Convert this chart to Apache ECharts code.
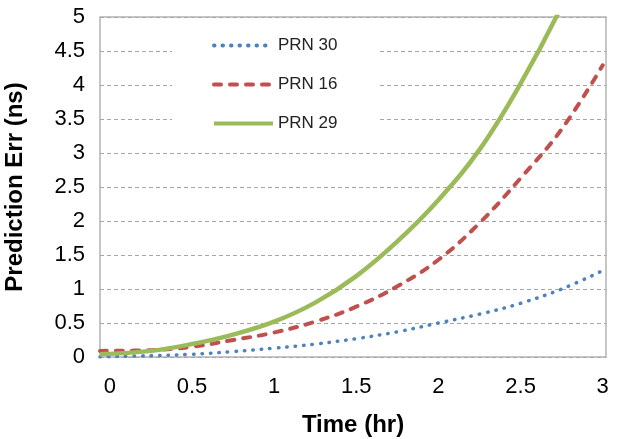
<!DOCTYPE html>
<html>
<head>
<meta charset="utf-8">
<script src="https://cdn.jsdelivr.net/npm/echarts@6/dist/echarts.min.js"></script>
<style>
html,body{margin:0;padding:0;background:#fff;}
#chart{width:628px;height:439px;}
</style>
</head>
<body>
<div id="chart"></div>
<script>
// Data (time in hours, error in ns)
var timeHours = [-0.06, 0.25, 0.5, 0.75, 1.0, 1.25, 1.5, 1.75, 2.0, 2.25, 2.5, 2.75, 3.0];
var prn30Err  = [0.0, 0.02, 0.04, 0.08, 0.13, 0.19, 0.27, 0.37, 0.5, 0.63, 0.79, 1.0, 1.27];
var prn16Err  = [0.09, 0.1, 0.15, 0.25, 0.36, 0.52, 0.74, 1.04, 1.43, 1.97, 2.63, 3.35, 4.29];
var prn29Err  = [0.04, 0.09, 0.19, 0.33, 0.52, 0.80, 1.19, 1.70, 2.31, 3.05, 4.02, 5.16, 6.5];
var seriesNames = ['PRN 30', 'PRN 16', 'PRN 29'];
var xTickLabels = [0, 0.5, 1, 1.5, 2, 2.5, 3];
var xAxisTitle = 'Time (hr)';
var yAxisTitle = 'Prediction Err (ns)';

function pairs(vs) {
  return timeHours.map(function (t, i) { return [t, vs[i]]; });
}

var font = '"Liberation Sans", Arial, sans-serif';
var chart = echarts.init(document.getElementById('chart'), null, {renderer: 'canvas'});
chart.setOption({
  animation: false,
  backgroundColor: '#fff',
  grid: {
    left: 100, top: 17, right: 22, bottom: 82,
    outerBoundsMode: 'none', containLabel: false,
    show: true, borderColor: '#B4B4B4', borderWidth: 1.5, backgroundColor: 'transparent'
  },
  legend: {
    orient: 'vertical',
    left: 172, top: 28,
    padding: [9, 42, 11, 40],
    backgroundColor: '#fff',
    itemWidth: 59, itemHeight: 14, itemGap: 22,
    data: seriesNames,
    itemStyle: {color: 'rgba(0,0,0,0)', borderColor: 'rgba(0,0,0,0)', borderWidth: 0},
    lineStyle: {width: 4},
    textStyle: {fontFamily: font, fontSize: 17, color: '#222'}
  },
  xAxis: {
    type: 'value', min: -0.06, max: 3.02,
    name: xAxisTitle, nameLocation: 'middle', nameGap: 56,
    nameTextStyle: {fontFamily: font, fontSize: 24, fontWeight: 'bold', color: '#000'},
    axisLine: {show: false},
    axisTick: {show: false},
    splitLine: {show: false},
    axisLabel: {
      customValues: xTickLabels, margin: 19,
      fontFamily: font, fontSize: 22, color: '#000'
    }
  },
  yAxis: {
    type: 'value', min: 0, max: 5, interval: 0.5,
    name: yAxisTitle, nameLocation: 'middle', nameGap: 73,
    nameTextStyle: {fontFamily: font, fontSize: 24, fontWeight: 'bold', color: '#000'},
    axisLine: {show: false},
    axisTick: {show: false},
    splitLine: {show: true, lineStyle: {color: '#A6A6A6', type: [4, 3], width: 1}},
    axisLabel: {margin: 15, fontFamily: font, fontSize: 22, color: '#000'}
  },
  series: [
    {
      name: seriesNames[0], type: 'line', smooth: 0.4,
      symbol: 'circle', showSymbol: false, clip: true,
      data: pairs(prn30Err), z: 3,
      itemStyle: {color: '#4F81BD'},
      lineStyle: {color: '#4F81BD', width: 3.5, type: [0.5, 8], cap: 'round'}
    },
    {
      name: seriesNames[1], type: 'line', smooth: 0.4,
      symbol: 'circle', showSymbol: false, clip: true,
      data: pairs(prn16Err), z: 4,
      itemStyle: {color: '#C0504D'},
      lineStyle: {color: '#C0504D', width: 4, type: [7, 9], cap: 'round'}
    },
    {
      name: seriesNames[2], type: 'line', smooth: 0.4,
      symbol: 'circle', showSymbol: false, clip: true,
      data: pairs(prn29Err), z: 5,
      itemStyle: {color: '#9BBB59'},
      lineStyle: {color: '#9BBB59', width: 4.5}
    }
  ]
});
</script>
</body>
</html>
